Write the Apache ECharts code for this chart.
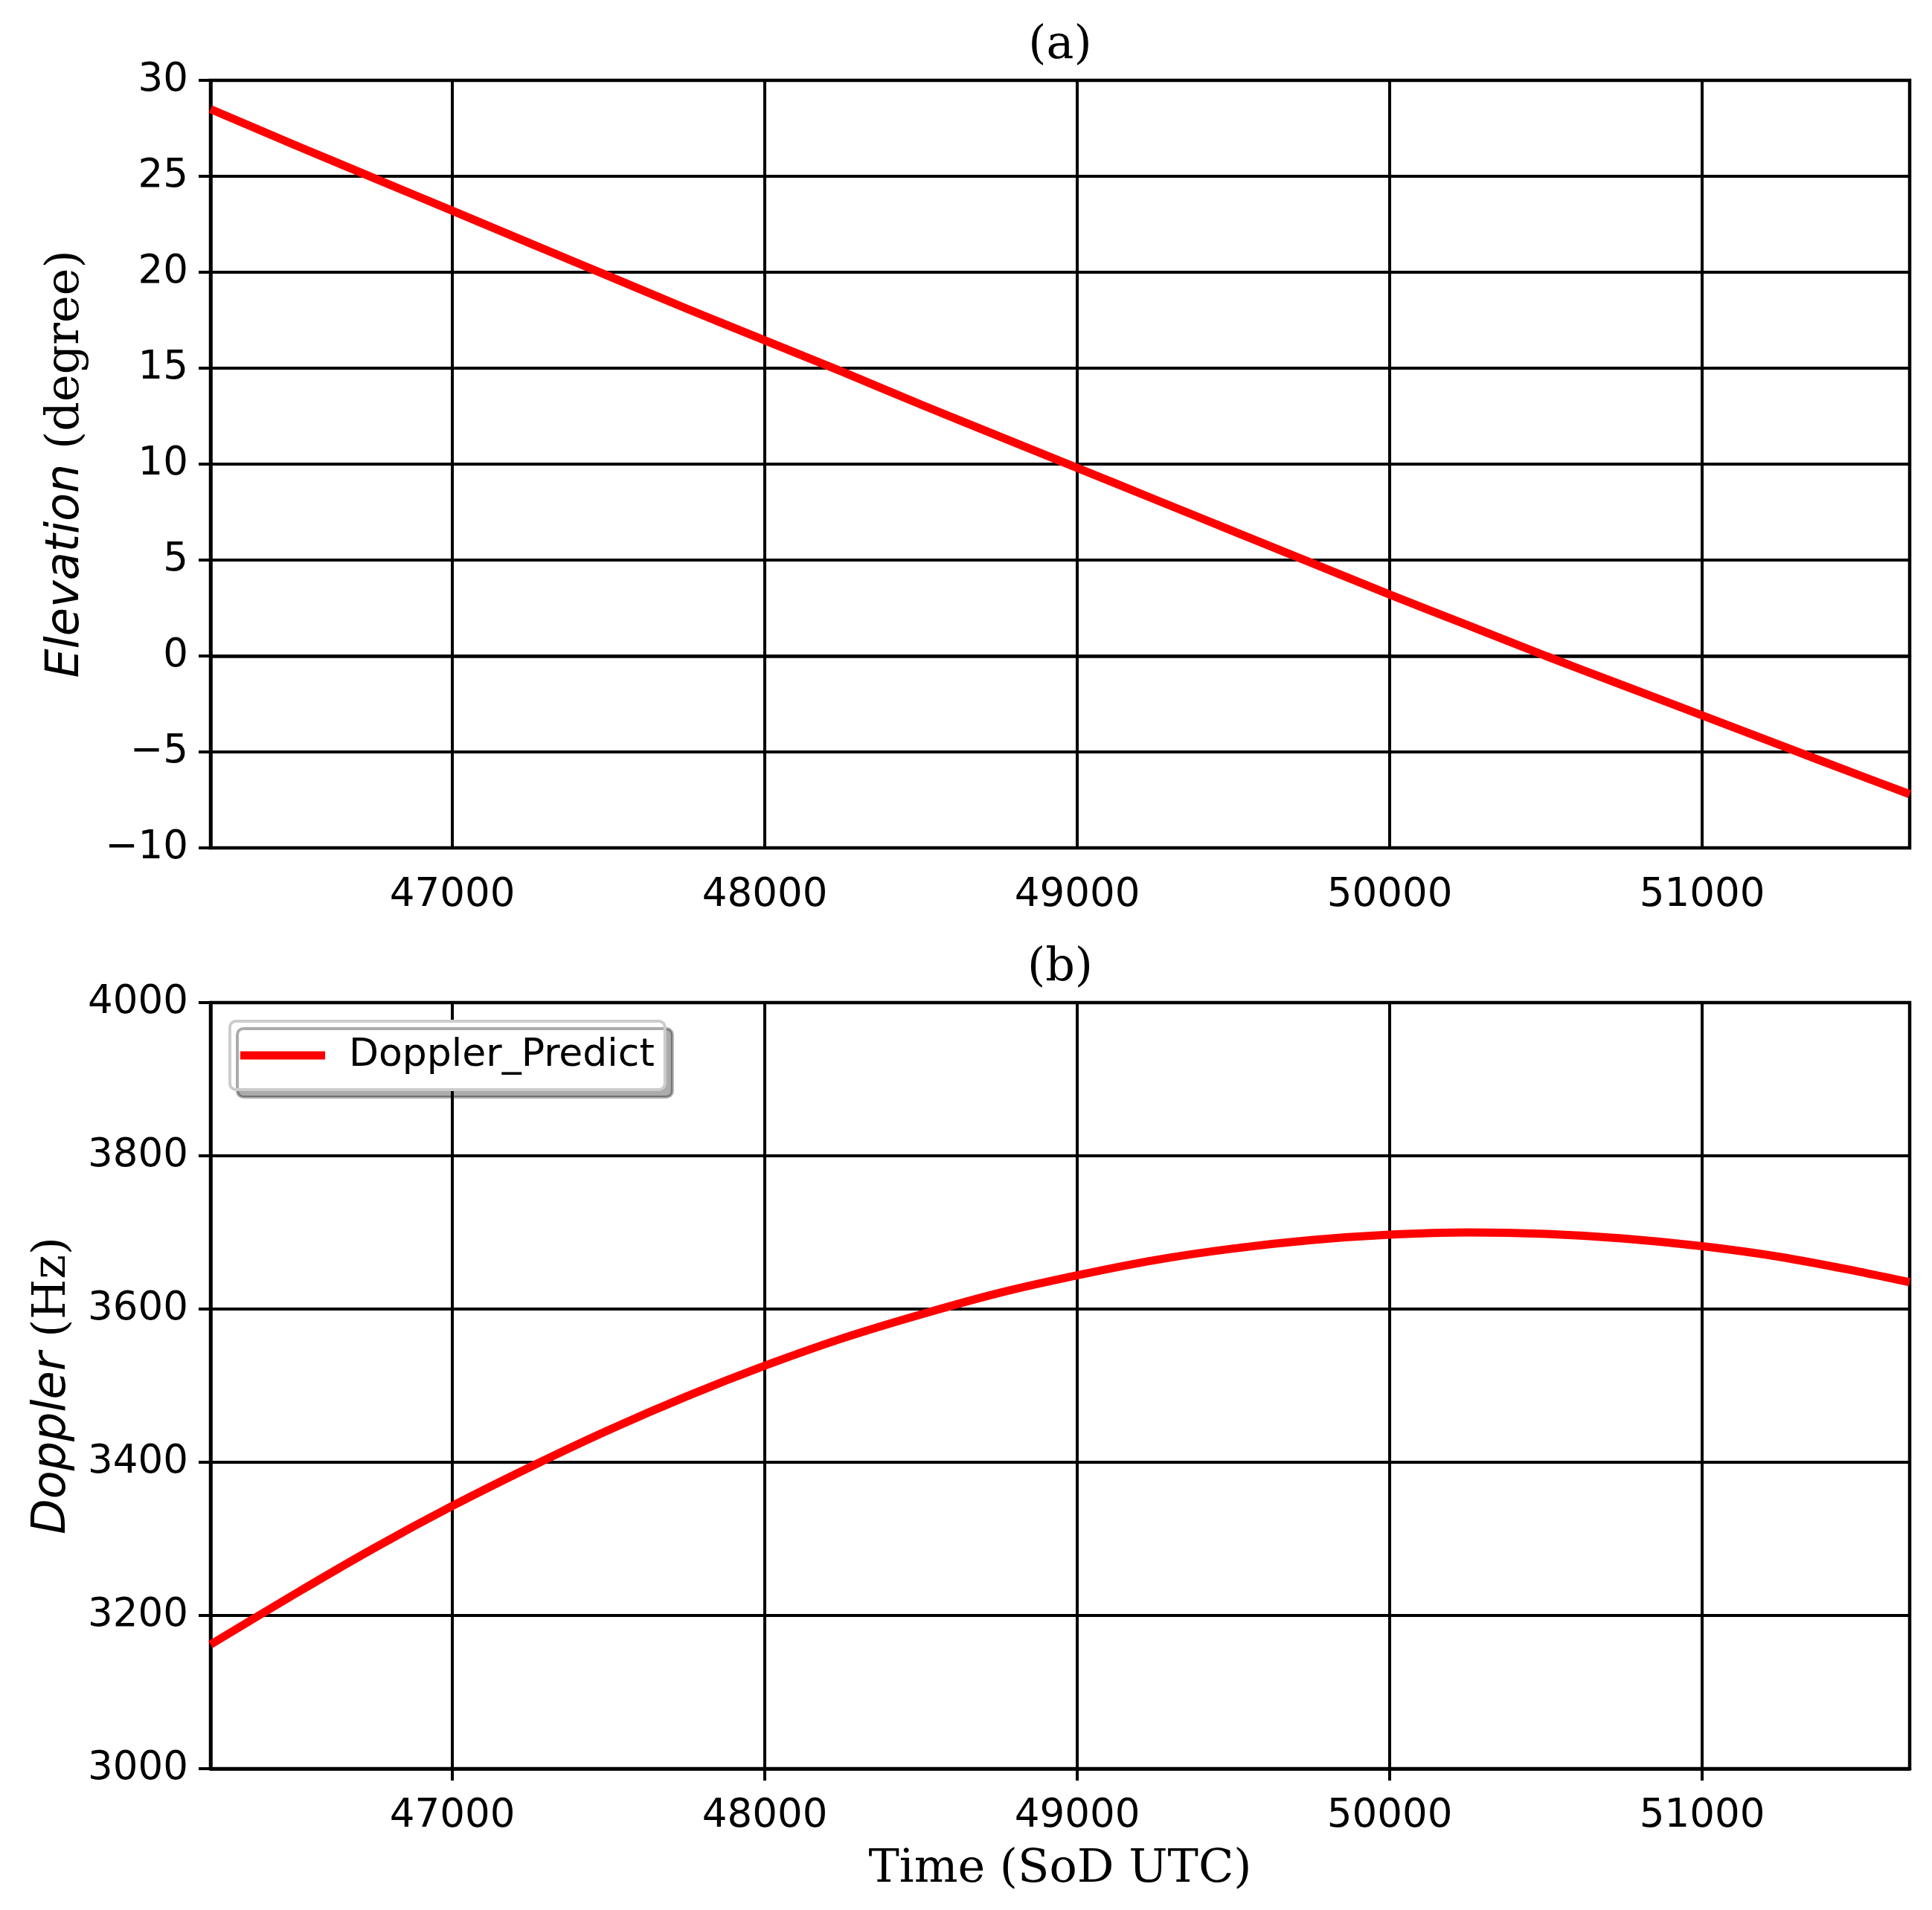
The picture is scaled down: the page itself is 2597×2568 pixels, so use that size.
<!DOCTYPE html>
<html>
<head>
<meta charset="utf-8">
<title>Elevation and Doppler</title>
<script src="https://cdn.jsdelivr.net/npm/echarts@6/dist/echarts.min.js"></script>
<style>
  html, body { margin: 0; padding: 0; background: #fff; }
  #chart { width: 2597px; height: 2568px; }
</style>
</head>
<body>
<div id="chart"></div>
<script>
// time in seconds of day (UTC)
const timeSod = [
  46226, 46500, 46750, 47000, 47250, 47500, 47750, 48000, 48250, 48500, 48750, 49000,
  49250, 49500, 49750, 50000, 50250, 50500, 50750, 51000, 51250, 51500, 51664
];

// (a) elevation, degree
const elevationDeg = [
  28.5, 26.6, 24.9, 23.2, 21.5, 19.8, 18.1, 16.45, 14.8, 13.1, 11.45, 9.8,
  8.15, 6.5, 4.85, 3.2, 1.6, 0.0, -1.55, -3.1, -4.65, -6.2, -7.2
];

// (b) predicted doppler, Hz
const dopplerHz = [
  3162, 3229, 3288, 3343, 3394, 3442, 3486, 3526, 3562, 3593, 3621, 3644,
  3664, 3679, 3690, 3697, 3700, 3698, 3692, 3682, 3668, 3649, 3635
];

const xTicks = [47000, 48000, 49000, 50000, 51000];
const xRange = [46226, 51664];

const tickFont = { fontFamily: "DejaVu Sans", fontSize: 53, color: "#000" };
const serif = "DejaVu Serif";

function minusFmt(v) {
  return v < 0 ? "\u2212" + Math.abs(v) : String(v);
}

function xAxisFor(gridIndex, withName) {
  const ax = {
    type: "value",
    gridIndex: gridIndex,
    min: xRange[0],
    max: xRange[1],
    axisLine: { show: true, lineStyle: { color: "#000", width: 4.5 } },
    axisTick: { show: true, length: 16, lineStyle: { color: "#000", width: 4 }, customValues: xTicks },
    axisLabel: Object.assign({ margin: 38, customValues: xTicks, formatter: minusFmt }, tickFont),
    splitLine: { show: true, lineStyle: { color: "#000", width: 4 } },
  };
  if (withName) {
    ax.name = "Time (SoD UTC)";
    ax.nameLocation = "middle";
    ax.nameGap = 105;
    ax.nameTextStyle = { fontFamily: serif, fontSize: 62, color: "#000" };
  }
  return ax;
}

function yAxisFor(gridIndex, min, max, step, name, gap) {
  return {
    type: "value",
    gridIndex: gridIndex,
    min: min,
    max: max,
    interval: step,
    name: name,
    nameLocation: "middle",
    nameRotate: 90,
    nameGap: gap,
    nameTextStyle: {
      fontFamily: serif,
      fontSize: 62,
      color: "#000",
      rich: {
        it: { fontFamily: "DejaVu Sans", fontStyle: "italic", fontSize: 62, color: "#000" },
        sf: { fontFamily: serif, fontSize: 62, color: "#000" },
      },
    },
    axisLine: { show: true, lineStyle: { color: "#000", width: 4.5 } },
    axisTick: { show: true, length: 16, lineStyle: { color: "#000", width: 4 } },
    axisLabel: Object.assign({ margin: 30, formatter: minusFmt }, tickFont),
    splitLine: { show: true, lineStyle: { color: "#000", width: 4 } },
  };
}

const option = {
  animation: false,
  backgroundColor: "#fff",
  title: [
    {
      text: "(a)",
      left: 1425,
      top: 31,
      textAlign: "center",
      padding: 0,
      textStyle: { fontFamily: serif, fontSize: 62, fontWeight: "normal", color: "#000" },
    },
    {
      text: "(b)",
      left: 1425,
      top: 1271,
      textAlign: "center",
      padding: 0,
      textStyle: { fontFamily: serif, fontSize: 62, fontWeight: "normal", color: "#000" },
    },
  ],
  legend: {
    data: [{ name: "Doppler_Predict", icon: "rect" }],
    left: 309,
    top: 1373,
    orient: "vertical",
    itemWidth: 114,
    itemHeight: 11,
    padding: [20, 14, 20, 14],
    backgroundColor: "#fff",
    borderColor: "#cccccc",
    borderWidth: 4,
    borderRadius: 8,
    shadowColor: "rgba(0,0,0,0.33)",
    shadowBlur: 0,
    shadowOffsetX: 10,
    shadowOffsetY: 10,
    textStyle: { fontFamily: "DejaVu Sans", fontSize: 52, color: "#000", padding: [0, 0, 0, 27] },
  },
  grid: [
    { left: 283, right: 30, top: 108, height: 1032, show: true, borderColor: "#000", borderWidth: 4.5 },
    { left: 283, right: 30, top: 1348, height: 1030, show: true, borderColor: "#000", borderWidth: 4.5 },
  ],
  xAxis: [xAxisFor(0, false), xAxisFor(1, true)],
  yAxis: [
    yAxisFor(0, -10, 30, 5, "{it|Elevation} {sf|(degree)}", 163),
    yAxisFor(1, 3000, 4000, 200, "{it|Doppler} {sf|(Hz)}", 181),
  ],
  series: [
    {
      name: "Elevation",
      type: "line",
      xAxisIndex: 0,
      yAxisIndex: 0,
      showSymbol: false,
      smooth: 0.3,
      lineStyle: { color: "#ff0000", width: 11 },
      itemStyle: { color: "#ff0000" },
      data: timeSod.map((t, i) => [t, elevationDeg[i]]),
    },
    {
      name: "Doppler_Predict",
      type: "line",
      xAxisIndex: 1,
      yAxisIndex: 1,
      showSymbol: false,
      smooth: 0.3,
      lineStyle: { color: "#ff0000", width: 11 },
      itemStyle: { color: "#ff0000" },
      data: timeSod.map((t, i) => [t, dopplerHz[i]]),
    },
  ],
};

const chart = echarts.init(document.getElementById("chart"));
chart.setOption(option);
</script>
</body>
</html>
